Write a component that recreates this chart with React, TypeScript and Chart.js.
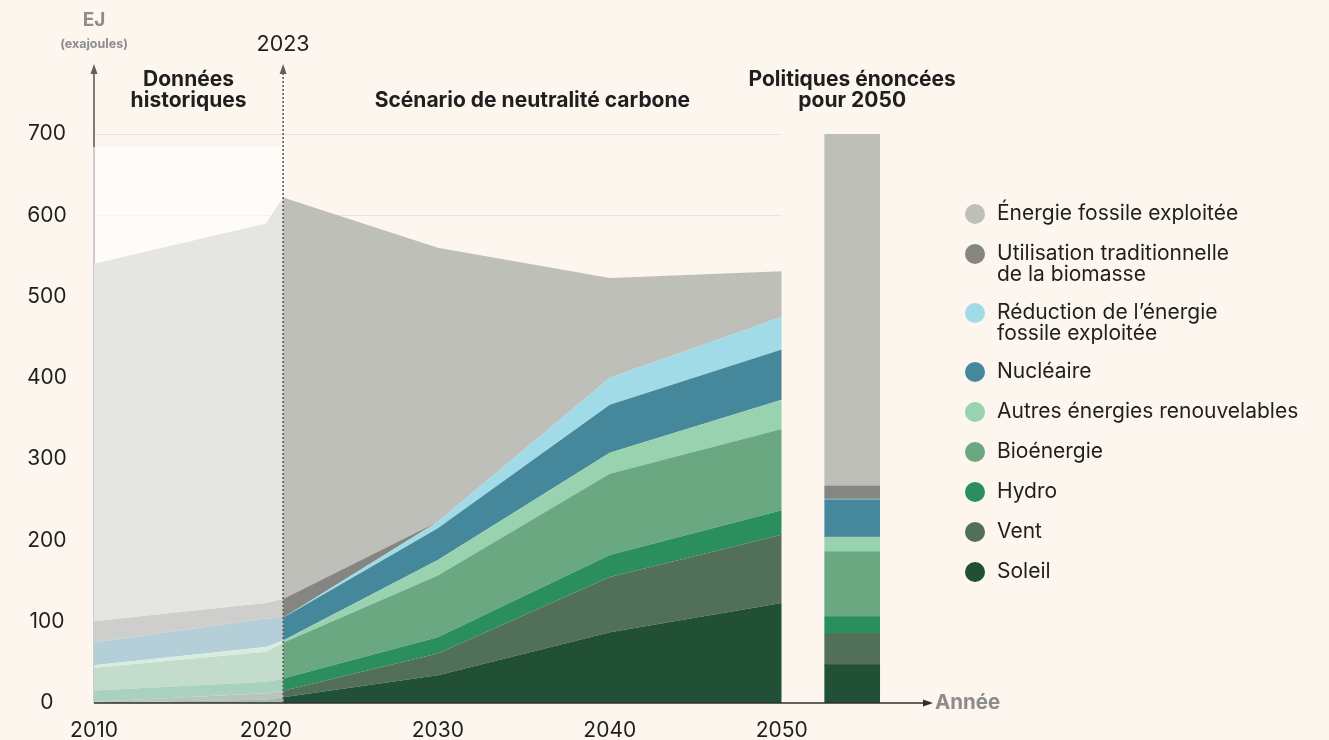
import React, { useEffect, useRef } from "react";
import { Chart, registerables } from "chart.js";

Chart.register(...registerables);

// ---- data (EJ) -------------------------------------------------------------
// Series are listed bottom to top of the stack.
const seriesLabels: string[][] = [
  ["Soleil"],
  ["Vent"],
  ["Hydro"],
  ["Bioénergie"],
  ["Autres énergies renouvelables"],
  ["Nucléaire"],
  ["Réduction de l’énergie", "fossile exploitée"],
  ["Utilisation traditionnelle", "de la biomasse"],
  ["Énergie fossile exploitée"],
];
const seriesColors = [
  "#225036",
  "#516f59",
  "#2a8f5c",
  "#6aa881",
  "#99d2af",
  "#45889b",
  "#a1dbe7",
  "#858581",
  "#bfbfb9",
];

const historyYears = [2010, 2020, 2021];
const soleilHistory = [0.5, 4, 7];
const ventHistory = [1, 8, 8];
const hydroHistory = [14, 14, 15];
const bioHistory = [28, 37, 44];
const autresHistory = [3, 6, 3];
const nucleaireHistory = [28, 35, 28];
const reductionHistory = [0, 0, 0];
const traditionnelleHistory = [26, 19, 23];
const fossileHistory = [440, 467, 494];

const scenarioYears = [2021, 2030, 2040, 2050];
const soleilScenario = [7, 34, 87, 123];
const ventScenario = [8, 27, 68, 84];
const hydroScenario = [15, 20, 27, 30];
const bioScenario = [44, 76, 100, 100];
const autresScenario = [3, 19, 26, 36];
const nucleaireScenario = [28, 39, 59, 62];
const reductionScenario = [0, 8, 33, 40];
const traditionnelleScenario = [23, 0, 0, 0];
const fossileScenario = [494, 337, 123, 56];

// "Politiques énoncées pour 2050" column, bottom to top
const policyValues = [47, 38, 21, 80, 18, 46, 1, 16, 433];
const policyBarYear = 2054.1;

const historySeries = [
  soleilHistory,
  ventHistory,
  hydroHistory,
  bioHistory,
  autresHistory,
  nucleaireHistory,
  reductionHistory,
  traditionnelleHistory,
  fossileHistory,
];
const scenarioSeries = [
  soleilScenario,
  ventScenario,
  hydroScenario,
  bioScenario,
  autresScenario,
  nucleaireScenario,
  reductionScenario,
  traditionnelleScenario,
  fossileScenario,
];

const xTickYears = [2010, 2020, 2030, 2040, 2050];
const yTickValues = [0, 100, 200, 300, 400, 500, 600, 700];
const cutoverYear = 2021;
const cutoverLabel = "2023";
const historyVeilTop = 684;
const xAxisEnd = 2058.8;

// ---- styling ---------------------------------------------------------------
const BG = "#fdf6ef";
const FONT = "Inter, 'Noto Sans', sans-serif";
const INK = "#1f1f1f";
const MUTED = "#8c8c8c";

function arrowUp(ctx: CanvasRenderingContext2D, x: number, tipY: number) {
  ctx.beginPath();
  ctx.moveTo(x, tipY);
  ctx.lineTo(x - 3.5, tipY + 10);
  ctx.lineTo(x + 3.5, tipY + 10);
  ctx.closePath();
  ctx.fill();
}

const decorPlugin = {
  id: "decor",
  beforeDatasetsDraw(chart: any) {
    const { ctx, chartArea, scales } = chart;
    const x = scales.x;
    const y = scales.y;
    ctx.save();
    // horizontal grid, only across the scenario period
    ctx.strokeStyle = "#e8e3de";
    ctx.lineWidth = 1;
    const gx0 = x.getPixelForValue(2010);
    const gx1 = x.getPixelForValue(2050);
    for (const v of yTickValues) {
      if (v === 0) continue;
      const py = Math.round(y.getPixelForValue(v)) + 0.5;
      ctx.beginPath();
      ctx.moveTo(gx0, py);
      ctx.lineTo(gx1, py);
      ctx.stroke();
    }
    // vertical axis with arrow
    ctx.strokeStyle = "#5e5e5e";
    ctx.fillStyle = "#5e5e5e";
    ctx.lineWidth = 1.6;
    const ax = chartArea.left;
    ctx.beginPath();
    ctx.moveTo(ax, chartArea.bottom);
    ctx.lineTo(ax, 72);
    ctx.stroke();
    arrowUp(ctx, ax, 64);
    ctx.restore();
  },
  afterDatasetsDraw(chart: any) {
    const { ctx, chartArea, scales } = chart;
    const x = scales.x;
    const y = scales.y;
    ctx.save();

    // veil over the historical period
    const vx0 = x.getPixelForValue(2010) - 1.5;
    const vx1 = x.getPixelForValue(cutoverYear);
    const vy0 = y.getPixelForValue(historyVeilTop);
    const vy1 = y.getPixelForValue(0);
    ctx.fillStyle = "rgba(255,255,255,0.6)";
    ctx.fillRect(vx0, vy0, vx1 - vx0, vy1 - vy0);

    // horizontal axis with arrow
    const by = chartArea.bottom;
    ctx.strokeStyle = "#2e2e2e";
    ctx.fillStyle = "#2e2e2e";
    ctx.lineWidth = 1.6;
    ctx.beginPath();
    ctx.moveTo(chartArea.left, by);
    ctx.lineTo(chartArea.right - 8, by);
    ctx.stroke();
    ctx.beginPath();
    ctx.moveTo(chartArea.right, by);
    ctx.lineTo(chartArea.right - 10, by - 3.5);
    ctx.lineTo(chartArea.right - 10, by + 3.5);
    ctx.closePath();
    ctx.fill();
    ctx.fillStyle = MUTED;
    ctx.font = `700 20.5px ${FONT}`;
    ctx.textAlign = "left";
    ctx.textBaseline = "middle";
    ctx.fillText("Année", chartArea.right + 2, by);

    // dotted cut-over line
    const cx = x.getPixelForValue(cutoverYear);
    ctx.strokeStyle = "#5e5e5e";
    ctx.fillStyle = "#5e5e5e";
    ctx.lineWidth = 1.6;
    ctx.setLineDash([2, 2]);
    ctx.beginPath();
    ctx.moveTo(cx, by);
    ctx.lineTo(cx, 72);
    ctx.stroke();
    ctx.setLineDash([]);
    arrowUp(ctx, cx, 64);

    // labels above the plot
    ctx.textAlign = "center";
    ctx.textBaseline = "middle";
    ctx.fillStyle = INK;
    ctx.font = `400 21.5px ${FONT}`;
    ctx.fillText(cutoverLabel, cx, 45);

    ctx.fillStyle = MUTED;
    ctx.font = `700 19px ${FONT}`;
    ctx.fillText("EJ", chartArea.left, 20);
    ctx.font = `700 12.5px ${FONT}`;
    ctx.fillText("(exajoules)", chartArea.left, 44);

    ctx.fillStyle = INK;
    ctx.font = `700 21px ${FONT}`;
    const hx = (chartArea.left + cx) / 2;
    ctx.fillText("Données", hx, 80);
    ctx.fillText("historiques", hx, 101);
    const sx = (cx + x.getPixelForValue(2050)) / 2;
    ctx.fillText("Scénario de neutralité carbone", sx, 101);
    const px = x.getPixelForValue(policyBarYear);
    ctx.fillText("Politiques énoncées", px, 80);
    ctx.fillText("pour 2050", px, 101);

    // legend, top of stack first
    let ly = 214;
    ctx.textAlign = "left";
    for (let i = seriesLabels.length - 1; i >= 0; i--) {
      const lines = seriesLabels[i];
      ctx.fillStyle = seriesColors[i];
      ctx.beginPath();
      ctx.arc(975, ly, 10, 0, Math.PI * 2);
      ctx.fill();
      ctx.fillStyle = INK;
      ctx.font = `400 21px ${FONT}`;
      lines.forEach((t, k) => ctx.fillText(t, 997, ly + k * 21));
      ly += 40 + 19 * (lines.length - 1);
    }
    ctx.restore();
  },
};

export default function App() {
  const ref = useRef<HTMLCanvasElement>(null);

  useEffect(() => {
    document.body.style.margin = "0";
    document.body.style.background = BG;

    const lineSets = (years: number[], series: number[][], stack: string) =>
      series.map((vals, i) => ({
        type: "line" as const,
        label: seriesLabels[i].join(" "),
        stack,
        data: years.map((yr, k) => ({ x: yr, y: vals[k] })),
        fill: i === 0 ? "origin" : "-1",
        backgroundColor: seriesColors[i],
        borderWidth: 0,
        pointRadius: 0,
        tension: 0,
      }));

    const barSets = policyValues.map((v, i) => ({
      type: "bar" as const,
      label: seriesLabels[i].join(" "),
      stack: "policy",
      data: [{ x: policyBarYear, y: v }],
      backgroundColor: seriesColors[i],
      borderWidth: 0,
      barThickness: 55,
    }));

    const chart = new Chart(ref.current!, {
      data: {
        datasets: [
          ...lineSets(historyYears, historySeries, "history"),
          ...lineSets(scenarioYears, scenarioSeries, "scenario"),
          ...barSets,
        ] as any,
      },
      options: {
        responsive: false,
        animation: false,
        layout: { padding: { top: 134, right: 396, bottom: 0, left: 0 } },
        plugins: {
          legend: { display: false },
          tooltip: { enabled: false },
        },
        scales: {
          x: {
            type: "linear",
            min: 2010,
            max: xAxisEnd,
            offset: false,
            grid: { display: false, offset: false },
            border: { display: false },
            afterBuildTicks: (axis: any) => {
              axis.ticks = xTickYears.map((value) => ({ value }));
            },
            afterFit: (s: any) => {
              s.height = 37;
            },
            ticks: {
              autoSkip: false,
              maxRotation: 0,
              padding: 7,
              color: INK,
              font: { family: FONT, size: 21 },
              callback: (v: any) => String(v),
            },
          },
          y: {
            stacked: true,
            min: 0,
            max: 700,
            grid: { display: false },
            border: { display: false },
            afterBuildTicks: (axis: any) => {
              axis.ticks = yTickValues.map((value) => ({ value }));
            },
            afterFit: (s: any) => {
              s.width = 94;
            },
            ticks: {
              crossAlign: "center",
              padding: 19,
              color: INK,
              font: { family: FONT, size: 21 },
              callback: (v: any) => String(v),
            },
          },
        },
      } as any,
      plugins: [decorPlugin],
    });

    return () => chart.destroy();
  }, []);

  return (
    <div style={{ width: 1329, height: 740, background: BG }}>
      <canvas ref={ref} width={1329} height={740} style={{ display: "block" }} />
    </div>
  );
}
